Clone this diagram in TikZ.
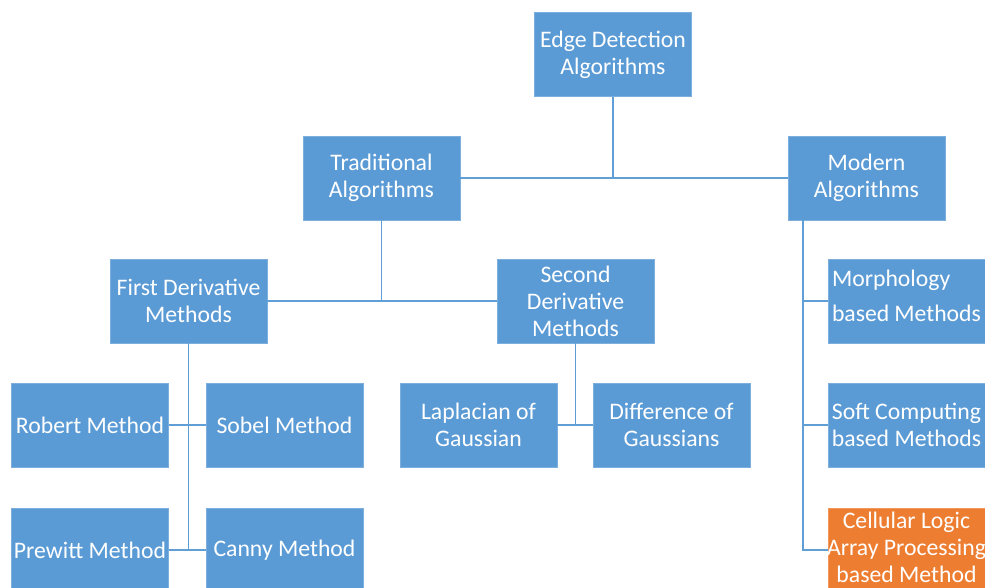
\documentclass[tikz,border=0pt]{standalone}
\usepackage{fontspec}
\setmainfont{Carlito}
\usetikzlibrary{positioning}
\definecolor{boxblue}{RGB}{91,155,213}
\definecolor{boxorange}{RGB}{237,125,49}
\definecolor{lineblue}{RGB}{96,158,214}

\begin{document}
\begin{tikzpicture}
  [x=0.02cm, y=-0.02cm, nodes={text=white, font=\fontsize{13.5}{15.3}\selectfont, align=center, inner sep=0pt, minimum width=3.14cm, minimum height=1.68cm}]
  \tikzset{algo/.style={fill=boxblue, draw=boxblue!80!white, line width=0.4pt}}
  \tikzset{novel/.style={fill=boxorange, draw=boxorange!80!white, line width=0.4pt}}
  \tikzset{link/.style={draw=lineblue, line width=1.1pt}}

  \useasboundingbox (0,0) rectangle (985,588);
  \clip (0,0) rectangle (985,588);

  % top levels
  \node [algo] (root) at (613,54.5) {Edge Detection\\Algorithms};
  \node [algo] (trad) at (381.5,178) {Traditional\\Algorithms};
  \node [algo] (modern) at (866.5,178) {Modern\\Algorithms};

  % derivative methods
  \node [algo] (first) at (188.5,301) {First Derivative\\Methods};
  \node [algo] (second) at (575.5,301) {Second\\Derivative\\Methods};

  % operators
  \node [algo] (robert) at (90,425) {Robert Method};
  \node [algo] (sobel) at (284.5,425) {Sobel Method};
  \node [algo] (prewitt) at (90,550) {Prewitt Method};
  \node [algo] (canny) at (284.5,550) {Canny Method};
  \node [algo] (laplace) at (478.5,425) {Laplacian of\\Gaussian};
  \node [algo] (dog) at (671.5,425) {Difference of\\Gaussians};

  % modern methods
  \node [algo] (morph) at (906.5,301) {\raisebox{3pt}[\height][\depth]{\parbox{2.98cm}{\raggedright Morphology\\[4.5pt]based Methods}}};
  \node [algo] (soft) at (906.5,425) {Soft Computing\\based Methods};
  \node [novel] (cella) at (906.5,550) {\raisebox{1.5pt}[\height][\depth]{\parbox{3.1cm}{\centering Cellular Logic\\\makebox[\linewidth]{Array Processing}\\based Method}}};

  % Edge Detection
  \draw [link] (root.south) -- (root.south |- trad.east);
  \draw [link] (trad.east) -- (modern.west);

  % Traditional
  \draw [link] (trad.south) -- (trad.south |- first.east);
  \draw [link] (first.east) -- (second.west);
    % First Derivative
    \draw [link] (first.south) -- (first.south |- prewitt.east);
    \draw [link] (robert.east) -- (sobel.west);
    \draw [link] (prewitt.east) -- (canny.west);
    % Second Derivative
    \draw [link] (second.south) -- (second.south |- laplace.east);
    \draw [link] (laplace.east) -- (dog.west);

  % Modern
  \coordinate (mbus) at ([xshift=0.3cm]modern.south west);
  \draw [link] (mbus) |- (cella.west);
  \draw [link] (mbus |- morph.west) -- (morph.west);
  \draw [link] (mbus |- soft.west) -- (soft.west);
\end{tikzpicture}
\end{document}
